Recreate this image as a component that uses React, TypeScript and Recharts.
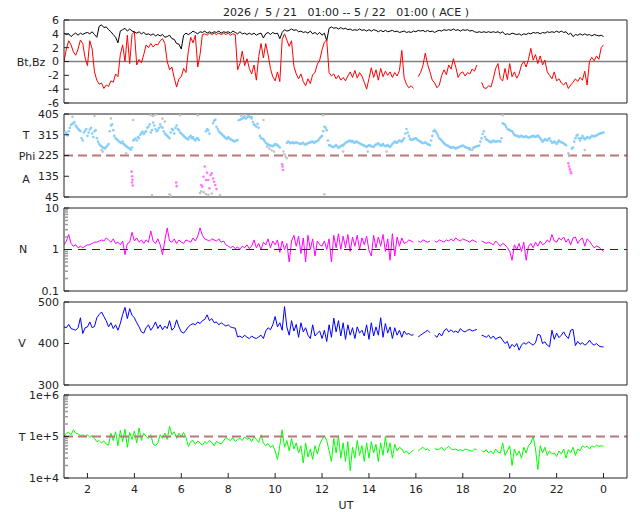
import React from 'react';
import { ComposedChart, Line, Scatter, XAxis, YAxis, ReferenceLine } from 'recharts';

const FONT = '"DejaVu Sans", sans-serif';
const INK = '#222';

// time grid: first sample at 01 UT, one sample every 6 minutes, last at 24 (= 00 UT next day)
const T0 = 1;
const STEP = 0.1;
const HOUR_TICKS = [2, 4, 6, 8, 10, 12, 14, 16, 18, 20, 22, 24];

// Bt (nT)
const BT = [
  4.1, 3.9, 4.0, 3.6, 3.9, 4.1, 3.8, 4.1, 3.9, 4.1,
  4.2, 4.0, 4.3, 3.9, 3.5, 5.1, 5.3, 4.9, 5.0, 4.6,
  4.3, 3.9, 3.5, 2.7, 4.4, 4.6, 4.8, 4.4, 4.7, 4.4,
  4.3, 4.1, 4.3, 4.0, 4.2, 3.9, 4.0, 3.8, 4.0, 3.7,
  3.9, 3.7, 3.9, 3.5, 3.6, 3.8, 3.3, 3.2, 2.6, 2.5,
  1.8, 3.8, 4.1, 3.9, 4.1, 4.4, 4.2, 4.0, 4.3, 4.2,
  4.4, 4.1, 4.3, 4.1, 4.3, 4.2, 4.4, 4.1, 4.3, 4.2,
  4.3, 4.1, 4.4, 4.2, 4.0, 4.3, 4.0, 4.1, 3.9, 4.1,
  3.9, 4.1, 3.8, 4.0, 4.1, 3.4, 4.0, 4.2, 3.9, 4.2,
  4.0, 4.1, 3.3, 4.2, 4.6, 4.4, 4.5, 4.7, 4.5, 4.6,
  4.3, 4.4, 4.2, 4.3, 4.1, 4.4, 4.0, 4.2, 3.9, 4.2,
  3.8, 4.1, 3.0, 4.8, 5.0, 4.8, 4.9, 4.7, 4.9, 4.7,
  4.8, 4.6, 4.7, 4.5, 4.6, 4.5, 4.7, 4.5, 4.6, 4.4,
  4.6, 4.4, 4.6, 4.5, 4.3, 4.5, 4.3, 4.5, 4.3, 4.4,
  4.5, 4.3, 4.4, 4.2, 4.3, 4.4, 4.2, 4.3, 4.2, 4.4,
  4.3, 4.5, 4.4, 4.5, 4.3, 4.5, 4.3, 4.4, 4.2, 4.4,
  4.5, 4.4, 4.6, 4.5, 4.6, 4.5, 4.7, 4.5, 4.6, 4.4,
  4.6, 4.5, 4.6, 4.4, 4.5, 4.3, 4.2, 4.3, 4.2, 4.3,
  4.2, 4.3, 4.2, 4.3, 4.2, 4.3, 4.1, 4.3, 3.9, 4.0,
  3.9, 4.1, 4.0, 3.9, 4.0, 3.8, 4.0, 3.9, 4.1, 4.0,
  4.2, 4.1, 4.2, 4.0, 4.2, 4.1, 4.3, 4.2, 4.3, 4.2,
  4.4, 4.2, 4.4, 4.2, 4.3, 3.9, 4.1, 3.6, 3.9, 3.8,
  4.0, 3.8, 4.0, 3.8, 3.9, 3.7, 3.9, 3.8, 3.7, 3.8, 3.6,
];

// Bz (nT)
const BZ = [
  0.0, 1.8, 3.0, 2.4, 1.4, 0.9, 1.8, 3.1, 2.6, 0.5,
  -0.6, 3.0, 1.8, -1.5, -2.7, -3.3, -3.1, -3.9, -3.4, -3.6,
  -2.8, -3.0, -1.8, -2.2, 1.0, 2.4, 0.0, 3.8, -0.3, 3.9,
  4.3, -0.5, 0.3, -0.2, 1.0, 2.4, 2.0, 2.6, 2.1, 2.5,
  2.4, 3.0, 3.3, 2.6, 0.0, -1.2, -0.8, -2.4, -3.7, -2.5,
  -2.2, -1.0, -1.6, 1.5, 3.5, 2.7, 3.8, -0.8, 1.0, 3.9,
  4.0, 3.8, 4.1, 3.9, 4.1, 3.9, 4.1, 3.9, 4.1, 3.9,
  4.1, 3.8, 4.0, 3.9, -1.2, -0.3, 1.5, -0.6, 0.4, -1.0,
  -1.8, -0.5, -2.7, 0.7, 2.6, 0.5, 2.6, 1.0, -1.0, -2.2,
  -2.8, -1.5, -2.9, 3.2, 4.0, 3.1, 2.2, 3.0, -0.7, -1.8,
  -2.5, -1.8, -2.9, -3.5, -2.5, -3.2, -1.9, -1.6, -0.4, 0.2,
  1.7, 2.8, 3.1, -1.6, -2.1, -1.8, -2.5, -2.0, -2.7, -2.3,
  -2.8, -2.1, -1.5, -2.3, -1.3, -2.4, -1.6, -2.1, -3.0, -4.0,
  -2.5, -0.9, -2.3, -1.2, -2.7, -1.0, -2.2, -1.4, -2.0, -1.5,
  -2.3, -1.6, -2.1, -1.3, 1.6, -2.4, -3.3, -3.8, -3.5, -3.9,
  null, -2.2, -1.6, -0.6, 1.2, -0.4, -1.5, -2.7, -3.1, -3.8,
  -3.4, -2.0, -1.2, -1.9, -0.5, -1.1, 0.4, -0.8, -2.3, -1.7,
  -1.5, -2.1, -1.6, -1.8, -1.1, -1.4, -0.5, null, -3.0, -3.8,
  -3.9, -3.5, -3.7, -2.5, -1.0, -0.3, -2.5, -2.8, -1.0, -2.6,
  -0.3, -2.2, -1.5, -2.4, -1.8, -0.5, 0.0, -0.8, 0.3, 1.9,
  0.2, 1.0, -0.3, 0.8, -0.5, 0.2, -1.5, -2.0, -2.5, -1.5,
  -2.8, -2.5, -3.1, -3.4, -3.0, -3.9, -3.4, -3.0, -2.5, -2.9,
  -2.3, -2.7, -1.4, -3.4, 0.0, 0.6, 0.1, 0.8, 0.3, 2.0, 2.4,
];

// Phi (deg), away sector points on the 6-minute grid
const PHI_BLUE = [
  318, 322, 330, 358, 365, 355, 340, 330, 290, 332,
  310, 338, 320, 330, 300, 275, 265, 258, 262, 275,
  355, 335, 300, 290, 282, 285, 270, 262, 255, 260,
  295, 290, 300, 322, 318, 330, 350, 325, 368, 340,
  335, 360, 345, 320, 310, 300, 340, 320, 355, 335,
  320, 310, 300, 295, 310, 305, 290, 300, null, null,
  null, 340, 320, null, 375, 350, 330, 320, 310, 300,
  305, 295, 290, 288, 292, 380, 385, 388, 390, 395,
  392, 360, 350, 345, 300, 295, 280, 272, 268, 265,
  275, 270, 260, null, null, 280, 283, 280, 278, 282,
  278, 275, 280, 272, 278, 282, 285, 282, 288, 300,
  310, 350, 335, 270, 265, 262, 270, 258, 265, 268,
  280, 285, 290, 288, 280, 284, 278, 272, 268, 262,
  270, 265, 262, 272, 278, 268, 275, 265, 270, 262,
  275, 285, 280, 290, 285, 300, 340, 310, 292, 295,
  300, 290, 285, 278, 282, 275, 270, 310, 335, 320,
  300, 290, 278, 270, 265, 258, 262, 255, 260, 265,
  268, 262, 258, 255, null, 262, 265, 268, 300, 330,
  295, 288, 282, 290, 285, 288, 285, 365, 358, 340,
  335, 330, 315, 310, 305, 310, 305, 308, 302, 306,
  310, 305, 312, 300, 285, 295, 290, 300, 280, 285,
  275, 290, 282, 278, 270, null, null, 260, 300, 315,
  290, 310, 295, 305, 300, 310, 308, 312, 318, 322, 325,
];

// Phi (deg), away sector points 3 minutes after each grid time
const PHI_BLUE_MID = [
  325, 312, 345, 362, 370, 348, 336, 300, 325, 340,
  325, 345, 305, 335, 285, 268, 260, 255, 268, 330,
  360, 310, 295, 285, 278, 275, 265, 258, 250, 290,
  298, 305, 315, 328, 325, 345, 360, 335, 355, 330,
  345, 350, 330, 315, 305, 325, 335, 345, 340, 325,
  315, 305, 298, 305, 300, 295, 298, 292, null, null,
  330, 335, null, 365, 380, 340, 325, 315, 305, 298,
  300, 292, 286, 290, 378, 383, 392, 386, 393, 390,
  370, 355, 362, 310, 298, 288, 276, 270, 266, 270,
  272, 265, null, null, null, 285, 278, 282, 280, 279,
  276, 278, 274, 276, 280, 284, 280, 286, 292, 305,
  330, 345, 290, 268, 262, 266, 264, 262, 270, 275,
  283, 288, 285, 282, 286, 280, 275, 270, 265, 266,
  268, 263, 268, 275, 272, 270, 268, 268, 265, 268,
  280, 282, 286, 288, 292, 320, 325, 298, 294, 298,
  295, 288, 280, 280, 278, 272, 290, 330, 328, 310,
  295, 284, 274, 268, 262, 260, 258, 258, 262, 266,
  265, 260, 256, null, 258, 263, 266, 285, 318, 305,
  292, 285, 286, 287, 286, 287, 300, 362, 350, 338,
  332, 322, 312, 308, 308, 307, 306, 305, 304, 308,
  307, 308, 306, 292, 290, 292, 295, 288, 282, 280,
  283, 286, 280, 274, null, null, 255, 285, 310, 300,
  300, 302, 300, 302, 305, 309, 310, 315, 320, 324,
];

// Phi, grey points (hour, deg)
const PHI_GRAY_T = [
  1.36, 2.3, 2.6, 2.65, 3.0, 3.65, 3.95, 4.7, 4.75, 4.8, 4.9, 5.2, 5.3, 5.5, 5.55, 5.95,
  6.7, 6.8, 6.85, 6.95, 7.05, 7.15, 7.3, 7.65, 8.55, 8.7, 8.85, 9.0, 9.5, 9.65, 9.75,
  9.85, 9.95, 10.35, 10.4, 10.45, 10.5, 12.05, 12.1, 12.9, 13.95, 14.75, 18.3, 18.4,
  19.7, 22.5, 22.55, 23.2,
];
const PHI_GRAY = [
  393, 396, 249, 242, 386, 235, 379, 400, 54, 396, 402, 385, 372, 57, 50, 400,
  400, 62, 70, 66, 58, 55, 60, 54, 398, 400, 396, 385, 379, 263, 255,
  248, 242, 242, 230, 220, 213, 400, 57, 242, 242, 242, 250, 249,
  400, 235, 222, 249,
];

// Phi, toward sector points (hour, deg)
const PHI_MAG_T = [
  3.88, 3.9, 3.92, 3.9, 3.93, 5.78, 5.8, 6.85, 6.9, 6.95, 7.0, 7.05, 7.1, 7.15, 7.2,
  7.25, 7.3, 7.35, 7.4, 7.45, 7.5, 10.3, 10.32, 10.34, 22.5, 22.53, 22.56, 22.6, 22.62,
];
const PHI_MAG = [
  155, 135, 120, 108, 95, 108, 92, 97, 90, 133, 177, 119, 150, 119, 83,
  140, 148, 125, 111, 97, 80, 187, 177, 162, 191, 177, 165, 155, 148,
];

// proton density (p/cc)
const DENS = [
  1.3, 1.6, 2.3, 1.4, 1.2, 1.3, 1.1, 1.2, 1.1, 1.2,
  1.3, 1.3, 1.4, 1.5, 1.5, 1.6, 1.7, 1.6, 1.9, 1.7,
  1.5, 1.8, 1.4, 1.5, 1.3, 1.6, 0.75, 1.4, 1.5, 2.6,
  1.6, 1.9, 1.5, 1.7, 1.4, 1.7, 1.5, 2.8, 1.6, 1.4,
  1.8, 1.3, 0.75, 1.7, 3.3, 1.6, 1.5, 1.8, 1.4, 1.7,
  1.5, 1.4, 1.7, 1.6, 1.5, 1.9, 1.6, 2.1, 3.3, 2.2,
  1.8, 1.7, 1.6, 1.8, 1.7, 1.6, 1.8, 1.5, 1.6, 1.3,
  1.2, 1.1, 1.2, 1.05, 1.15, 1.0, 1.2, 1.1, 1.3, 1.05,
  1.2, 1.7, 1.1, 1.4, 1.0, 1.5, 1.3, 1.8, 1.1, 1.6,
  1.3, 1.7, 0.85, 1.6, 1.0, 1.4, 0.5, 1.6, 2.2, 1.2,
  2.1, 0.8, 1.9, 0.5, 2.2, 1.0, 1.8, 0.7, 1.6, 1.3,
  1.2, 1.6, 1.0, 1.8, 0.5, 2.2, 1.1, 2.4, 1.0, 2.1,
  1.1, 2.3, 0.9, 2.0, 1.2, 2.2, 1.0, 1.9, 1.3, 2.1,
  0.95, 0.7, 2.2, 1.1, 2.0, 1.2, 2.3, 0.9, 1.8, 0.55,
  2.4, 0.7, 2.0, 1.2, 1.9, 1.4, 1.5, 1.7, 1.6, 1.5,
  null, 1.6, 1.5, 1.7, 1.6, 1.5, 1.6, null, 1.6, 1.5,
  1.7, 1.6, 1.5, 1.7, 1.6, 1.8, 1.6, 1.9, 1.7, 1.6,
  1.8, 1.7, 1.6, 1.5, 1.7, 1.6, 1.5, null, 1.6, 1.5,
  1.4, 1.5, 1.4, 1.3, 1.6, 1.4, 1.2, 1.4, 1.3, 1.1,
  0.9, 0.55, 1.3, 1.0, 1.4, 0.9, 1.5, 0.55, 1.2, 1.4,
  1.1, 1.5, 1.2, 1.6, 1.3, 1.4, 1.7, 1.5, 2.3, 1.6,
  1.5, 1.9, 1.7, 2.0, 1.5, 1.8, 1.3, 1.9, 2.0, 1.4,
  1.7, 1.9, 1.2, 1.8, 1.6, 1.3, 1.1, 1.2, 1.15, 1.0, 0.9,
];

// bulk speed (km/s)
const SPEED = [
  440, 438, 446, 436, 434, 432, 438, 462, 424, 438,
  440, 452, 438, 441, 462, 470, 476, 465, 455, 440,
  450, 436, 445, 432, 448, 470, 487, 460, 484, 468,
  462, 450, 440, 428, 425, 438, 445, 432, 440, 452,
  436, 445, 433, 442, 436, 455, 432, 438, 457, 440,
  428, 425, 432, 440, 445, 448, 445, 452, 448, 455,
  458, 469, 455, 460, 450, 452, 445, 450, 446, 442,
  445, 440, 438, 437, 416, 418, 414, 420, 415, 412,
  418, 414, 412, 416, 420, 412, 430, 438, 433, 445,
  465, 440, 450, 432, 489, 440, 420, 455, 430, 446,
  415, 450, 428, 438, 420, 412, 445, 418, 425, 430,
  412, 432, 405, 445, 415, 461, 428, 455, 418, 450,
  410, 445, 420, 438, 412, 440, 425, 432, 418, 445,
  410, 450, 418, 440, 420, 462, 415, 448, 425, 440,
  412, 438, 420, 432, 415, 430, 422, 424, 420, 421,
  null, 416, 420, 424, 428, 432, 426, null, 420, 415,
  425, 418, 430, 436, 428, 433, 427, 430, 426, 436,
  430, 428, 432, 434, 430, 432, 434, null, 420, 418,
  415, 420, 412, 418, 410, 414, 416, 408, 400, 405,
  388, 398, 392, 400, 384, 396, 402, 398, 404, 400,
  396, 402, 422, 420, 400, 404, 396, 392, 432, 410,
  425, 414, 420, 428, 418, 412, 432, 434, 395, 405,
  398, 402, 396, 400, 408, 400, 396, 400, 394, 392, 392,
];

// proton temperature (K)
const TEMP = [
  1.0e5, 1.2e5, 1.25e5, 1.1e5, 1.45e5, 1.2e5, 1.15e5, 1.05e5, 1.1e5, 1.0e5,
  1.1e5, 9.5e4, 1.05e5, 9e4, 7.5e4, 8e4, 7e4, 7.8e4, 6.5e4, 6.2e4,
  1.2e5, 8e4, 1.3e5, 6e4, 1.4e5, 7.5e4, 1.5e5, 5.5e4, 1.25e5, 8.5e4,
  1.35e5, 7e4, 1.6e5, 8e4, 1.2e5, 1e5, 9e4, 1.1e5, 6.5e4, 6e4,
  7e4, 1.1e5, 9e4, 1.2e5, 8.5e4, 1.75e5, 1.1e5, 1.3e5, 9e4, 1.2e5,
  1e5, 1.25e5, 9.5e4, 5.8e4, 7.5e4, 8e4, 6.5e4, 7.8e4, 7e4, 6.2e4,
  7.5e4, 6.8e4, 8e4, 7.2e4, 6e4, 7.6e4, 7e4, 6.6e4, 7.8e4, 9.5e4,
  8.5e4, 8e4, 9.5e4, 7.5e4, 8.5e4, 9e4, 8e4, 9.8e4, 8.5e4, 9.2e4,
  7.5e4, 1e5, 8.5e4, 7.2e4, 1.1e5, 7e4, 6e4, 6.8e4, 5.5e4, 6.2e4,
  4.5e4, 2.8e4, 6e4, 1.45e5, 5.5e4, 8e4, 4.5e4, 9e4, 5e4, 7e4,
  4e4, 6e4, 2.3e4, 7e4, 3.2e4, 5e4, 2.8e4, 6e4, 3.8e4, 6.5e4,
  8.5e4, 1.05e5, 8e4, 4.5e4, 2.5e4, 9e4, 4e4, 1.05e5, 3e4, 7e4,
  2.5e4, 7.5e4, 1.5e4, 5.5e4, 3e4, 8e4, 3.5e4, 6e4, 2.5e4, 7e4,
  3e4, 7.5e4, 4e4, 6.5e4, 2.5e4, 7e4, 3.5e4, 1e5, 4e4, 7e4,
  3e4, 6.5e4, 4.5e4, 5.5e4, 5e4, 4e4, 4.5e4, 3.8e4, 4.2e4, 4.8e4,
  null, 4.5e4, 5e4, 5.5e4, 4.8e4, 5e4, 4.5e4, null, 5.2e4, 4.8e4,
  5e4, 5.5e4, 4.6e4, 5.2e4, 5.8e4, 5e4, 4.8e4, 5e4, 4.6e4, 4.8e4,
  4.5e4, 5e4, 4.8e4, 4.6e4, 4.4e4, 5e4, 4.8e4, null, 4.6e4, 4.2e4,
  4.8e4, 4e4, 4.5e4, 3.8e4, 5e4, 4.2e4, 4e4, 7e4, 3.5e4, 4.5e4,
  6e4, 2e4, 5e4, 3.5e4, 4.5e4, 3e4, 5.5e4, 4e4, 6e4, 7e4,
  1e5, 5e4, 1.6e4, 6e4, 4e4, 5.5e4, 3.5e4, 4.5e4, 3.8e4, 4e4,
  3.3e4, 4.5e4, 3.8e4, 5e4, 3e4, 4.8e4, 4e4, 5.5e4, 3.5e4, 5e4,
  4.5e4, 6e4, 5.5e4, 5.8e4, 5e4, 6e4, 5.5e4, 6.2e4, 5.8e4, 6e4, 5.8e4,
];

const BZ_TICKS = [-6, -4, -2, 0, 2, 4, 6];
const PHI_TICKS = [45, 135, 225, 315, 405];
const N_TICKS = [0.1, 1, 10];
const N_MINOR = [0.2, 0.3, 0.4, 0.5, 0.6, 0.7, 0.8, 0.9, 2, 3, 4, 5, 6, 7, 8, 9];
const V_TICKS = [300, 400, 500];
const T_TICKS = [1e4, 1e5, 1e6];
const T_MINOR = [2e4, 3e4, 4e4, 5e4, 6e4, 7e4, 8e4, 9e4, 2e5, 3e5, 4e5, 5e5, 6e5, 7e5, 8e5, 9e5];

const TITLE = '2026 /  5 / 21   01:00 -- 5 / 22   01:00 ( ACE )';

const hourOf = (i: number, shift = 0) => Math.round((T0 + shift + i * STEP) * 1000) / 1000;

const rows = BT.map((bt, i) => ({
  t: hourOf(i), bt, bz: BZ[i], n: DENS[i], v: SPEED[i], temp: TEMP[i],
}));
const blueDots = [
  ...PHI_BLUE.map((v, i) => ({ t: hourOf(i), v })),
  ...PHI_BLUE_MID.map((v, i) => ({ t: hourOf(i, STEP / 2), v })),
].filter(d => d.v !== null);
const grayDots = PHI_GRAY_T.map((t, i) => ({ t, v: PHI_GRAY[i] }));
const magDots = PHI_MAG_T.map((t, i) => ({ t, v: PHI_MAG[i] }));

const PH = 83;

type PanelProps = {
  top: number;
  domain: [number, number];
  log?: boolean;
  ticks: number[];
  minor?: number[];
  fmt?: (v: number) => string;
  showX?: boolean;
  children: React.ReactNode;
};

function Panel({ top, domain, log, ticks, minor = [], fmt = v => String(v), showX, children }: PanelProps) {
  const mb = showX ? 34 : 10;
  const leftTick = (p: any) => {
    const v = p.payload.value;
    const major = ticks.includes(v);
    return (
      <g>
        <line x1={p.x} x2={p.x + (major ? 5 : 4)} y1={p.y} y2={p.y}
          stroke={major ? INK : '#999'} strokeWidth={major ? 1 : 1.5} />
        {major && (
          <text x={p.x - 5} y={p.y} dy="0.35em" textAnchor="end" fontSize={11} fill={INK}>{fmt(v)}</text>
        )}
      </g>
    );
  };
  return (
    <div style={{ position: 'absolute', left: 0, top: top - 10 }}>
      <ComposedChart width={640} height={10 + PH + mb} data={rows}
        margin={{ top: 9, right: 12, bottom: mb - 1, left: 63 }}>
        <XAxis xAxisId="x" dataKey="t" type="number" domain={[1, 25]} allowDataOverflow
          ticks={HOUR_TICKS} interval={0} height={1} tickSize={-5} tickMargin={12} stroke={INK}
          tick={showX ? { fill: INK, fontSize: 11 } : false}
          tickFormatter={(h: number) => String(h % 24)} />
        <XAxis xAxisId="xt" orientation="top" dataKey="t" type="number" domain={[1, 25]} allowDataOverflow
          ticks={HOUR_TICKS} interval={0} height={1} tickSize={-5} stroke={INK} tick={false} />
        <YAxis yAxisId="y" type="number" scale={log ? 'log' : 'linear'} domain={domain} allowDataOverflow
          ticks={[...ticks, ...minor]} interval={0} width={1} tickSize={0} tickMargin={0}
          tickLine={false} stroke={INK} tick={leftTick} />
        <YAxis yAxisId="yr" orientation="right" type="number" scale={log ? 'log' : 'linear'} domain={domain}
          allowDataOverflow ticks={ticks} interval={0} width={1} tickSize={-5} stroke={INK} tick={false} />
        {children}
      </ComposedChart>
    </div>
  );
}

const dot = (fill: string) => (p: any) =>
  p.cx == null ? <g /> : <circle cx={p.cx} cy={p.cy} r={1.3} fill={fill} />;

export default function App() {
  const ax = { xAxisId: 'x', yAxisId: 'y' } as const;
  const line = { type: 'linear', strokeWidth: 1, dot: false, isAnimationActive: false } as const;
  return (
    <div style={{ position: 'absolute', left: 0, top: 0, width: 640, height: 512, background: '#fff', fontFamily: FONT }}>
      <Panel top={20} domain={[-6, 6]} ticks={BZ_TICKS}>
        <ReferenceLine {...ax} y={0} stroke="#808080" strokeWidth={1.6} />
        <Line {...ax} {...line} dataKey="bt" stroke="#000" />
        <Line {...ax} {...line} dataKey="bz" stroke="#ff0000" />
      </Panel>

      <Panel top={114} domain={[45, 405]} ticks={PHI_TICKS}>
        <Scatter {...ax} data={grayDots} dataKey="v" shape={dot('#c4c4c4')} isAnimationActive={false} />
        <Scatter {...ax} data={blueDots} dataKey="v" shape={dot('#87cefa')} isAnimationActive={false} />
        <Scatter {...ax} data={magDots} dataKey="v" shape={dot('#ff77ff')} isAnimationActive={false} />
        <ReferenceLine {...ax} y={225} stroke="#b87878" strokeWidth={2} strokeDasharray="9 5" />
      </Panel>

      <Panel top={208} domain={[0.1, 10]} log ticks={N_TICKS} minor={N_MINOR}>
        <Line {...ax} {...line} dataKey="n" stroke="#ff00ff" />
        <ReferenceLine {...ax} y={1} stroke="#800000" strokeWidth={1} strokeDasharray="8 6" />
      </Panel>

      <Panel top={302} domain={[300, 500]} ticks={V_TICKS}>
        <Line {...ax} {...line} dataKey="v" stroke="#0000ff" />
      </Panel>

      <Panel top={395} domain={[1e4, 1e6]} log ticks={T_TICKS} minor={T_MINOR}
        fmt={v => `1e+${Math.round(Math.log10(v))}`} showX>
        <Line {...ax} {...line} dataKey="temp" stroke="#00ff00" />
        <ReferenceLine {...ax} y={1e5} stroke="#b87878" strokeWidth={2} strokeDasharray="9 5" />
      </Panel>

      <svg width={640} height={512} style={{ position: 'absolute', left: 0, top: 0, pointerEvents: 'none' }}>
        <g fontSize={11} fill={INK}>
          <text x={346} y={12} dy="0.35em" textAnchor="middle" xmlSpace="preserve" style={{ whiteSpace: 'pre' }}>{TITLE}</text>
          <text x={31} y={62} dy="0.35em" textAnchor="middle">Bt,Bz</text>
          <text x={26} y={135} dy="0.35em" textAnchor="middle">T</text>
          <text x={27} y={156} dy="0.35em" textAnchor="middle">Phi</text>
          <text x={26} y={179} dy="0.35em" textAnchor="middle">A</text>
          <text x={23} y={249} dy="0.35em" textAnchor="middle">N</text>
          <text x={22} y={343} dy="0.35em" textAnchor="middle">V</text>
          <text x={22} y={437} dy="0.35em" textAnchor="middle">T</text>
          <text x={346} y={505} dy="0.35em" textAnchor="middle">UT</text>
        </g>
      </svg>
    </div>
  );
}
